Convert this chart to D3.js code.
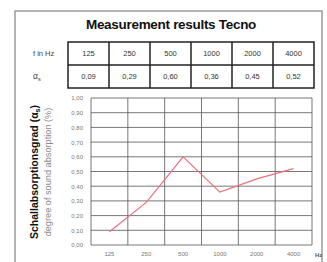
<!DOCTYPE html>
<html lang="en">
<head>
<meta charset="utf-8">
<title>Measurement results Tecno</title>
<style>
body { margin: 0; background: #fff; }
* { font-family: "Liberation Sans", Arial, sans-serif; }
</style>
<script src="https://cdn.jsdelivr.net/npm/d3@7"></script>
</head>
<body>
<div id="chart"></div>
<script>
// values
var freqs = ['125', '250', '500', '1000', '2000', '4000'];
var alphas = [0.09, 0.29, 0.60, 0.36, 0.45, 0.52];
var yTicks = [0, 0.1, 0.2, 0.3, 0.4, 0.5, 0.6, 0.7, 0.8, 0.9, 1.0];

var width = 327, height = 262;
var fmt = function(v) { return d3.format('.2f')(v).replace('.', ','); };

var svg = d3.select('#chart').append('svg')
    .attr('width', width)
    .attr('height', height);

// outer frame
svg.append('rect')
    .attr('x', 15).attr('y', 11)
    .attr('width', 307).attr('height', 270)
    .attr('fill', 'none')
    .attr('stroke', '#9a9a9a')
    .attr('stroke-width', 1.5);

svg.append('text')
    .attr('x', 171).attr('y', 29)
    .attr('text-anchor', 'middle')
    .attr('font-size', 13.5)
    .attr('font-weight', 'bold')
    .attr('letter-spacing', -0.3)
    .attr('fill', '#111')
    .text('Measurement results Tecno');

// table
var tx = d3.scaleBand().domain(freqs).range([68, 314]);
var rowY = [42, 65, 88];

var table = svg.append('g');
table.append('rect')
    .attr('x', 68).attr('y', rowY[0])
    .attr('width', 246).attr('height', rowY[2] - rowY[0])
    .attr('fill', 'none').attr('stroke', '#222').attr('stroke-width', 1.5);
table.append('line')
    .attr('x1', 68).attr('x2', 314).attr('y1', rowY[1]).attr('y2', rowY[1])
    .attr('stroke', '#222').attr('stroke-width', 1.5);
table.selectAll('line.col')
    .data(freqs.slice(1))
    .enter().append('line')
    .attr('class', 'col')
    .attr('x1', function(d) { return tx(d); })
    .attr('x2', function(d) { return tx(d); })
    .attr('y1', rowY[0]).attr('y2', rowY[2])
    .attr('stroke', '#222').attr('stroke-width', 1.5);

table.selectAll('text.f')
    .data(freqs)
    .enter().append('text')
    .attr('class', 'f')
    .attr('x', function(d) { return tx(d) + tx.bandwidth() / 2; })
    .attr('y', 56)
    .attr('text-anchor', 'middle')
    .attr('font-size', 7.5)
    .attr('fill', '#333')
    .text(function(d) { return d; });

table.selectAll('text.a')
    .data(alphas)
    .enter().append('text')
    .attr('class', 'a')
    .attr('x', function(d, i) { return tx(freqs[i]) + tx.bandwidth() / 2; })
    .attr('y', 79)
    .attr('text-anchor', 'middle')
    .attr('font-size', 7.5)
    .attr('fill', '#333')
    .text(function(d) { return fmt(d); });

table.append('text')
    .attr('x', 33).attr('y', 56)
    .attr('font-size', 7.5).attr('fill', '#444')
    .text('f in Hz');
var as = table.append('text')
    .attr('x', 33).attr('y', 79)
    .attr('font-size', 8.5).attr('fill', '#444');
as.append('tspan').text('α');
as.append('tspan').attr('font-size', 5.5).attr('dy', 1.5).text('s');

// chart
var x = d3.scaleBand().domain(freqs).range([91, 312]);
var y = d3.scaleLinear().domain([0, 1]).range([245, 98]);

var grid = svg.append('g');
grid.selectAll('line.h')
    .data(yTicks)
    .enter().append('line')
    .attr('class', 'h')
    .attr('x1', 91).attr('x2', 312)
    .attr('y1', function(d) { return y(d); })
    .attr('y2', function(d) { return y(d); })
    .attr('stroke', '#555').attr('stroke-width', 0.8);
grid.selectAll('line.v')
    .data(freqs.concat(['end']))
    .enter().append('line')
    .attr('class', 'v')
    .attr('x1', function(d) { return d === 'end' ? 312 : x(d); })
    .attr('x2', function(d) { return d === 'end' ? 312 : x(d); })
    .attr('y1', y(1)).attr('y2', y(0))
    .attr('stroke', '#555').attr('stroke-width', 0.8);

svg.append('g')
    .attr('transform', 'translate(91,0)')
    .call(d3.axisLeft(y).tickValues(yTicks).tickSize(0).tickPadding(8).tickFormat(fmt))
    .call(function(g) { g.select('.domain').remove(); })
    .selectAll('text')
    .attr('font-size', 6)
    .attr('fill', '#777');

svg.append('g')
    .attr('transform', 'translate(0,245)')
    .call(d3.axisBottom(x).tickSize(0).tickPadding(7))
    .call(function(g) { g.select('.domain').remove(); })
    .selectAll('text')
    .attr('font-size', 6)
    .attr('fill', '#777');

svg.append('text')
    .attr('x', 315).attr('y', 257)
    .attr('font-size', 6).attr('font-weight', 'bold')
    .attr('fill', '#555')
    .text('Hz');

var line = d3.line()
    .x(function(d, i) { return x(freqs[i]) + x.bandwidth() / 2; })
    .y(function(d) { return y(d); });

svg.append('path')
    .datum(alphas)
    .attr('d', line)
    .attr('fill', 'none')
    .attr('stroke', '#ec6f7c')
    .attr('stroke-width', 1.2);

// axis titles
var t1 = svg.append('text')
    .attr('transform', 'translate(38,172) rotate(-90)')
    .attr('text-anchor', 'middle')
    .attr('font-size', 10.5)
    .attr('font-weight', 'bold')
    .attr('fill', '#111');
t1.append('tspan').text('Schallabsorptionsgrad (α');
t1.append('tspan').attr('font-size', 7).attr('dy', 1.5).text('s');
t1.append('tspan').attr('dy', -1.5).text(')');

svg.append('text')
    .attr('transform', 'translate(51,172) rotate(-90)')
    .attr('text-anchor', 'middle')
    .attr('font-size', 9.2)
    .attr('fill', '#8a8a8a')
    .text('degree of sound absorption (%)');
</script>
</body>
</html>
